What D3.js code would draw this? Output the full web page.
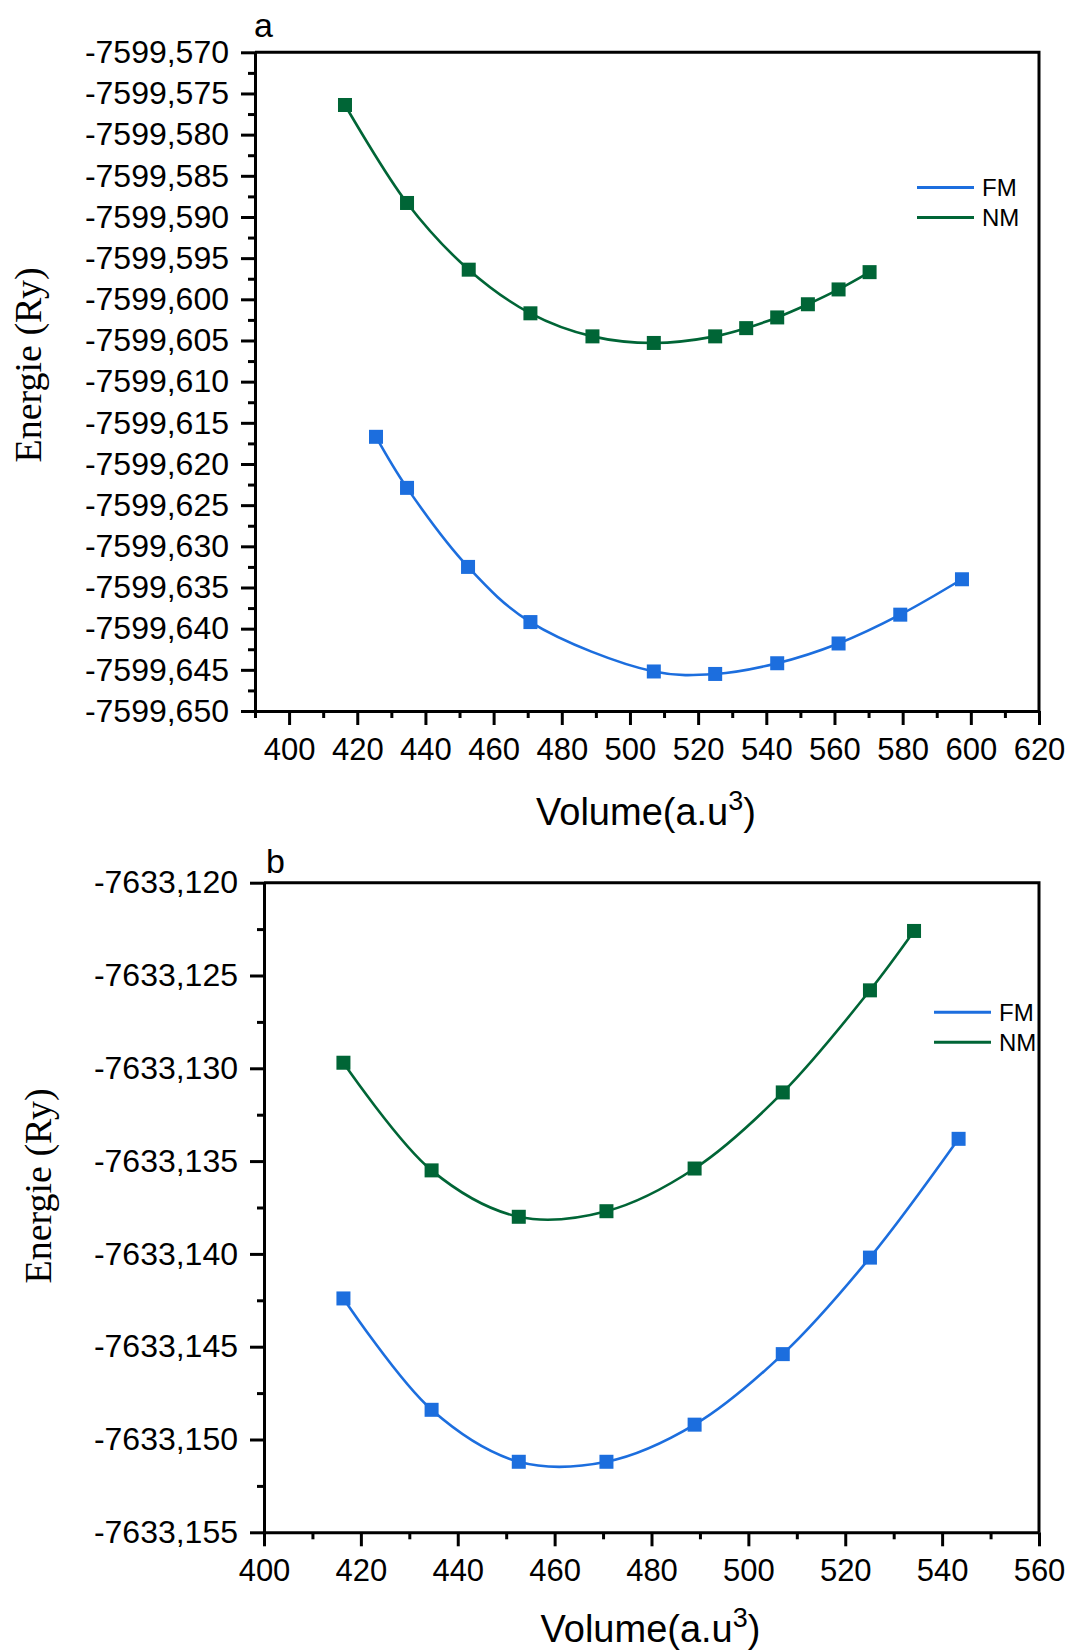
<!DOCTYPE html>
<html>
<head>
<meta charset="utf-8">
<script src="https://cdn.jsdelivr.net/npm/d3@7"></script>
<style>
  body { margin: 0; background: #fff; }
  svg { display: block; }
  .tick text { font-family: "Liberation Sans", Arial, sans-serif; fill: #000; }
  .axis path, .axis line { stroke: #000; stroke-width: 3; }
</style>
</head>
<body>
<div id="chart-container"></div>
<script>
// panel a data (Volume in a.u^3, Energie in Ry)
var volA_FM = [425.5, 434.6, 452.5, 470.8, 507.0, 525.0, 543.2, 561.2, 579.3, 597.4];
var enA_FM = [-7599.6167, -7599.6229, -7599.6325, -7599.6392, -7599.6452, -7599.6455, -7599.6442, -7599.6418, -7599.6383, -7599.6340];
var volA_NM = [416.4, 434.6, 452.7, 470.8, 489.0, 507.0, 525.0, 534.1, 543.2, 552.2, 561.2, 570.3];
var enA_NM = [-7599.5764, -7599.5883, -7599.5964, -7599.6017, -7599.6045, -7599.6053, -7599.6045, -7599.6035, -7599.6022, -7599.6006, -7599.5988, -7599.5967];

// panel b data
var volB_FM = [416.4, 434.6, 452.6, 470.7, 488.9, 507.1, 525.1, 543.4];
var enB_FM = [-7633.1424, -7633.1484, -7633.1512, -7633.1512, -7633.1492, -7633.1454, -7633.1402, -7633.1338];
var volB_NM = [416.4, 434.6, 452.6, 470.7, 488.9, 507.1, 525.1, 534.2];
var enB_NM = [-7633.1297, -7633.1355, -7633.1380, -7633.1377, -7633.1354, -7633.1313, -7633.1258, -7633.1226];

// ticks
var xTicksA = [400, 420, 440, 460, 480, 500, 520, 540, 560, 580, 600, 620];
var xMinorA = [390, 410, 430, 450, 470, 490, 510, 530, 550, 570, 590, 610];
var yTicksA = [-7599.570, -7599.575, -7599.580, -7599.585, -7599.590, -7599.595, -7599.600, -7599.605,
               -7599.610, -7599.615, -7599.620, -7599.625, -7599.630, -7599.635, -7599.640, -7599.645, -7599.650];
var xTicksB = [400, 420, 440, 460, 480, 500, 520, 540, 560];
var xMinorB = [410, 430, 450, 470, 490, 510, 530, 550];
var yTicksB = [-7633.120, -7633.125, -7633.130, -7633.135, -7633.140, -7633.145, -7633.150, -7633.155];

var seriesNames = ["FM", "NM"];
var colors = { FM: "#1c6ede", NM: "#006536" };

var width = 1070, height = 1651;
var svg = d3.select("#chart-container").append("svg")
    .attr("width", width)
    .attr("height", height);

var loc = d3.formatLocale({ decimal: ",", thousands: "", grouping: [3], currency: ["", ""], minus: "-" });
var fmt3 = loc.format(".3f");

function midpoints(arr) {
    var out = [];
    for (var i = 0; i < arr.length - 1; i++) out.push((arr[i] + arr[i + 1]) / 2);
    return out;
}

function drawPanel(p) {
    var x = d3.scaleLinear().domain(p.xDomain).range([p.left, p.right]);
    var y = d3.scaleLinear().domain(p.yDomain).range([p.bottom, p.top]);
    var g = svg.append("g");

    // frame top / right
    g.append("path")
        .attr("d", "M" + p.left + "," + p.top + "H" + p.right + "V" + p.bottom)
        .attr("fill", "none")
        .attr("stroke", "#000")
        .attr("stroke-width", 3);

    // minor ticks
    g.append("g").attr("class", "axis")
        .attr("transform", "translate(0," + p.bottom + ")")
        .call(d3.axisBottom(x).tickValues(p.xMinor).tickSize(7).tickSizeOuter(0).tickFormat(""))
        .select(".domain").remove();
    g.append("g").attr("class", "axis")
        .attr("transform", "translate(" + p.left + ",0)")
        .call(d3.axisLeft(y).tickValues(midpoints(p.yTicks)).tickSize(7).tickSizeOuter(0).tickFormat(""))
        .select(".domain").remove();

    // major axes
    var gx = g.append("g").attr("class", "axis")
        .attr("transform", "translate(0," + p.bottom + ")")
        .call(d3.axisBottom(x).tickValues(p.xTicks).tickSize(14).tickSizeOuter(0).tickPadding(13));
    gx.selectAll(".tick text").attr("font-size", 31);

    var gy = g.append("g").attr("class", "axis")
        .attr("transform", "translate(" + p.left + ",0)")
        .call(d3.axisLeft(y).tickValues(p.yTicks).tickSize(14).tickSizeOuter(0).tickPadding(12).tickFormat(fmt3));
    gy.selectAll(".tick text").attr("font-size", 32);

    // axis titles
    var xt = g.append("text")
        .attr("x", (p.left + p.right) / 2 - 1)
        .attr("y", p.xTitleY)
        .attr("text-anchor", "middle")
        .attr("font-family", "Liberation Sans, Arial, sans-serif")
        .attr("font-size", 38);
    xt.append("tspan").text("Volume(a.u");
    xt.append("tspan").attr("font-size", 27).attr("dy", -15).text("3");
    xt.append("tspan").attr("dy", 15).text(")");

    g.append("text")
        .attr("transform", "translate(" + p.yTitleX + "," + p.yTitleY + ") rotate(-90)")
        .attr("text-anchor", "middle")
        .attr("font-family", "Liberation Serif, Times New Roman, serif")
        .attr("font-size", 38)
        .text("Energie (Ry)");

    // panel letter
    g.append("text")
        .attr("x", p.letterX)
        .attr("y", p.letterY)
        .attr("font-family", "Liberation Sans, Arial, sans-serif")
        .attr("font-size", 34)
        .text(p.letter);

    // curves and markers
    var line = d3.line()
        .x(function (d) { return x(d[0]); })
        .y(function (d) { return y(d[1]); })
        .curve(d3.curveCatmullRom.alpha(0.5));

    p.series.forEach(function (s) {
        var pts = s.vol.map(function (v, i) { return [v, s.en[i]]; });
        g.append("path")
            .datum(pts)
            .attr("d", line)
            .attr("fill", "none")
            .attr("stroke", colors[s.name])
            .attr("stroke-width", 2.6);
        g.selectAll(null)
            .data(pts)
            .enter().append("rect")
            .attr("x", function (d) { return x(d[0]) - 7; })
            .attr("y", function (d) { return y(d[1]) - 7; })
            .attr("width", 14)
            .attr("height", 14)
            .attr("fill", colors[s.name]);
    });

    // legend
    seriesNames.forEach(function (name, i) {
        var ly = p.legendY + i * 30;
        g.append("line")
            .attr("x1", p.legendX).attr("x2", p.legendX + 57)
            .attr("y1", ly).attr("y2", ly)
            .attr("stroke", colors[name])
            .attr("stroke-width", 3);
        g.append("text")
            .attr("x", p.legendX + 65)
            .attr("y", ly + 8.5)
            .attr("font-family", "Liberation Sans, Arial, sans-serif")
            .attr("font-size", 24)
            .text(name);
    });
}

drawPanel({
    letter: "a", letterX: 254, letterY: 37,
    left: 255, right: 1039, top: 52.3, bottom: 711,
    xDomain: [390, 620], yDomain: [-7599.650, -7599.570],
    xTicks: xTicksA, xMinor: xMinorA, yTicks: yTicksA,
    xTitleY: 825, yTitleX: 41, yTitleY: 365,
    legendX: 917, legendY: 187.5,
    series: [
        { name: "FM", vol: volA_FM, en: enA_FM },
        { name: "NM", vol: volA_NM, en: enA_NM }
    ]
});

drawPanel({
    letter: "b", letterX: 266, letterY: 873,
    left: 264, right: 1039, top: 882.7, bottom: 1532.3,
    xDomain: [400, 560], yDomain: [-7633.155, -7633.120],
    xTicks: xTicksB, xMinor: xMinorB, yTicks: yTicksB,
    xTitleY: 1642, yTitleX: 51, yTitleY: 1186,
    legendX: 934, legendY: 1012.3,
    series: [
        { name: "FM", vol: volB_FM, en: enB_FM },
        { name: "NM", vol: volB_NM, en: enB_NM }
    ]
});
</script>
</body>
</html>
